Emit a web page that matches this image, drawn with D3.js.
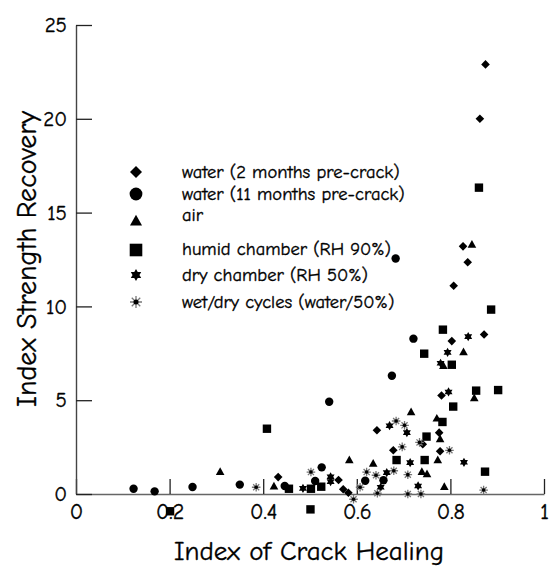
<!DOCTYPE html>
<html>
<head>
<meta charset="utf-8">
<script src="https://cdn.jsdelivr.net/npm/d3@7"></script>
<style>
  html, body { margin: 0; padding: 0; background: #fff; }
  svg { display: block; }
  text { font-family: "Comic Sans MS", "Comic Neue", "Open Sans", sans-serif; fill: #000; stroke: #000; stroke-width: 0.35px; }
</style>
</head>
<body>
<svg id="chart" width="550" height="573"></svg>
<script>
// ---- data ----
const seriesNames = [
  "water (2 months pre-crack)",
  "water (11 months pre-crack)",
  "air",
  "humid chamber (RH 90%)",
  "dry chamber (RH 50%)",
  "wet/dry cycles (water/50%)"
];
const seriesShapes = ["diamond", "circle", "triangle", "square", "hexagram", "asterisk"];

const water2Points = [
  [0.875, 22.9], [0.863, 20.0], [0.827, 13.2], [0.837, 12.35], [0.807, 11.1],
  [0.803, 8.15], [0.872, 8.5], [0.781, 5.25], [0.643, 3.4], [0.776, 3.27],
  [0.741, 2.65], [0.678, 2.33], [0.778, 2.28], [0.432, 0.9], [0.561, 0.75],
  [0.571, 0.25], [0.582, 0.07]
];
const water11Points = [
  [0.683, 12.55], [0.721, 8.28], [0.675, 6.3], [0.541, 4.92], [0.525, 1.42],
  [0.618, 0.71], [0.657, 0.73], [0.511, 0.69], [0.446, 0.43], [0.123, 0.28],
  [0.168, 0.14], [0.249, 0.37], [0.350, 0.5]
];
const airPoints = [
  [0.846, 13.3], [0.828, 7.57], [0.785, 6.84], [0.851, 5.12], [0.716, 4.37],
  [0.771, 4.03], [0.778, 2.93], [0.773, 1.81], [0.584, 1.81], [0.635, 1.63],
  [0.739, 1.19], [0.750, 1.07], [0.308, 1.19], [0.423, 0.41], [0.787, 0.39]
];
const humidPoints = [
  [0.861, 16.33], [0.887, 9.83], [0.784, 8.76], [0.744, 7.48], [0.803, 6.89],
  [0.855, 5.51], [0.902, 5.54], [0.806, 4.66], [0.783, 3.84], [0.749, 3.06],
  [0.408, 3.48], [0.685, 1.81], [0.745, 1.81], [0.874, 1.19], [0.524, 0.39],
  [0.502, 0.28], [0.455, 0.28], [0.501, -0.82], [0.201, -0.92]
];
const dryPoints = [
  [0.838, 8.39], [0.794, 7.55], [0.779, 6.97], [0.796, 5.44], [0.670, 3.64],
  [0.707, 3.27], [0.714, 1.67], [0.829, 1.69], [0.664, 1.14], [0.544, 0.92],
  [0.544, 0.66], [0.485, 0.30], [0.651, 0.36], [0.731, 0.43]
];
const wetDryPoints = [
  [0.684, 3.89], [0.702, 3.66], [0.734, 2.75], [0.697, 2.51], [0.798, 2.33],
  [0.679, 1.24], [0.621, 1.17], [0.709, 1.03], [0.502, 1.17], [0.593, -0.28],
  [0.607, 0.36], [0.644, 0.04], [0.709, 0.0], [0.737, 0.0], [0.871, 0.21],
  [0.385, 0.36], [0.641, 1.0]
];

const xTicks = [0, 0.2, 0.4, 0.6, 0.8, 1];
const xTickLabels = ["0", "0.2", "0.4", "0.6", "0.8", "1"];
const yTicks = [0, 5, 10, 15, 20, 25];
const yTickLabels = ["0", "5", "10", "15", "20", "25"];
const xTitle = "Index of Crack Healing";
const yTitle = "Index Strength Recovery";

// ---- drawing ----
const FONT = '"Comic Sans MS", "Comic Neue", "Open Sans", sans-serif';
const svg = d3.select("#chart");
const x = d3.scaleLinear().domain([0, 1]).range([76, 544]);
const y = d3.scaleLinear().domain([0, 25]).range([494, 25]);

function shapePath(type, r) {
  const p = d3.path();
  if (type === "diamond") {
    p.moveTo(0, -r); p.lineTo(r, 0); p.lineTo(0, r); p.lineTo(-r, 0); p.closePath();
  } else if (type === "circle") {
    p.arc(0, 0, r, 0, 2 * Math.PI);
  } else if (type === "square") {
    p.rect(-r, -r, 2 * r, 2 * r);
  } else if (type === "triangle") {
    p.moveTo(0, -r * 1.05); p.lineTo(r, r * 0.75); p.lineTo(-r, r * 0.75); p.closePath();
  } else if (type === "hexagram") {
    for (let k = 0; k < 2; k++) {
      const off = k * Math.PI / 3;
      for (let i = 0; i < 3; i++) {
        const a = -Math.PI / 2 + off + i * 2 * Math.PI / 3;
        const px = r * Math.cos(a), py = r * Math.sin(a);
        if (i === 0) p.moveTo(px, py); else p.lineTo(px, py);
      }
      p.closePath();
    }
  } else if (type === "asterisk") {
    for (let i = 0; i < 4; i++) {
      const a = i * Math.PI / 4;
      p.moveTo(-r * Math.cos(a), -r * Math.sin(a));
      p.lineTo(r * Math.cos(a), r * Math.sin(a));
    }
  }
  return p.toString();
}

function drawMarker(g, type, cx, cy, r) {
  const m = g.append("g").attr("transform", `translate(${cx},${cy})`);
  if (type === "asterisk") {
    m.append("path").attr("d", shapePath(type, r))
      .attr("fill", "none").attr("stroke", "#777").attr("stroke-width", 1.3);
    m.append("circle").attr("r", r * 0.42).attr("fill", "#000");
  } else {
    m.append("path").attr("d", shapePath(type, r)).attr("fill", "#000");
  }
}

// axes
const xAxis = d3.axisBottom(x).tickValues(xTicks)
  .tickFormat((d, i) => xTickLabels[i])
  .tickSizeInner(-15).tickSizeOuter(0).tickPadding(9);
const gx = svg.append("g").attr("transform", "translate(0,494)").call(xAxis);
gx.select(".domain").attr("stroke", "#666").attr("stroke-width", 1.6);
gx.selectAll(".tick line").attr("stroke", "#222").attr("stroke-width", 1.3);
gx.selectAll(".tick text").attr("font-size", 22).style("font-family", FONT);

const yAxis = d3.axisLeft(y).tickValues(yTicks)
  .tickFormat((d, i) => yTickLabels[i])
  .tickSizeInner(-16).tickSizeOuter(0).tickPadding(9);
const gy = svg.append("g").attr("transform", "translate(76,0)").call(yAxis);
gy.select(".domain").attr("stroke", "#444").attr("stroke-width", 1.4);
gy.selectAll(".tick line").attr("stroke", "#222").attr("stroke-width", 1.3);
gy.selectAll(".tick text").attr("font-size", 21).style("font-family", FONT);

// titles
svg.append("text").attr("x", 309).attr("y", 551).attr("text-anchor", "middle")
  .attr("dominant-baseline", "central").attr("font-size", 27).text(xTitle);
svg.append("text").attr("transform", "translate(27,259) rotate(-90)")
  .attr("text-anchor", "middle").attr("dominant-baseline", "central")
  .attr("font-size", 28).text(yTitle);

// points
const allSeries = [water2Points, water11Points, airPoints, humidPoints, dryPoints, wetDryPoints];
const markerR = { diamond: 4.3, circle: 4.2, triangle: 4.3, square: 4.2, hexagram: 4.6, asterisk: 4.3 };
const gp = svg.append("g");
allSeries.forEach((pts, si) => {
  const type = seriesShapes[si];
  pts.forEach(d => drawMarker(gp, type, x(d[0]), y(d[1]), markerR[type]));
});

// legend
const legendSymY = [172, 194, 221, 250, 275, 302];
const legendTextY = [172, 194, 215, 249, 275, 302];
const legendR = { diamond: 6, circle: 6.4, triangle: 6, square: 6.3, hexagram: 6, asterisk: 6 };
const gl = svg.append("g");
seriesNames.forEach((name, i) => {
  drawMarker(gl, seriesShapes[i], 136, legendSymY[i], legendR[seriesShapes[i]]);
  gl.append("text").attr("x", 182).attr("y", legendTextY[i])
    .attr("dominant-baseline", "central").attr("font-size", 18.5).text(name);
});
</script>
</body>
</html>
